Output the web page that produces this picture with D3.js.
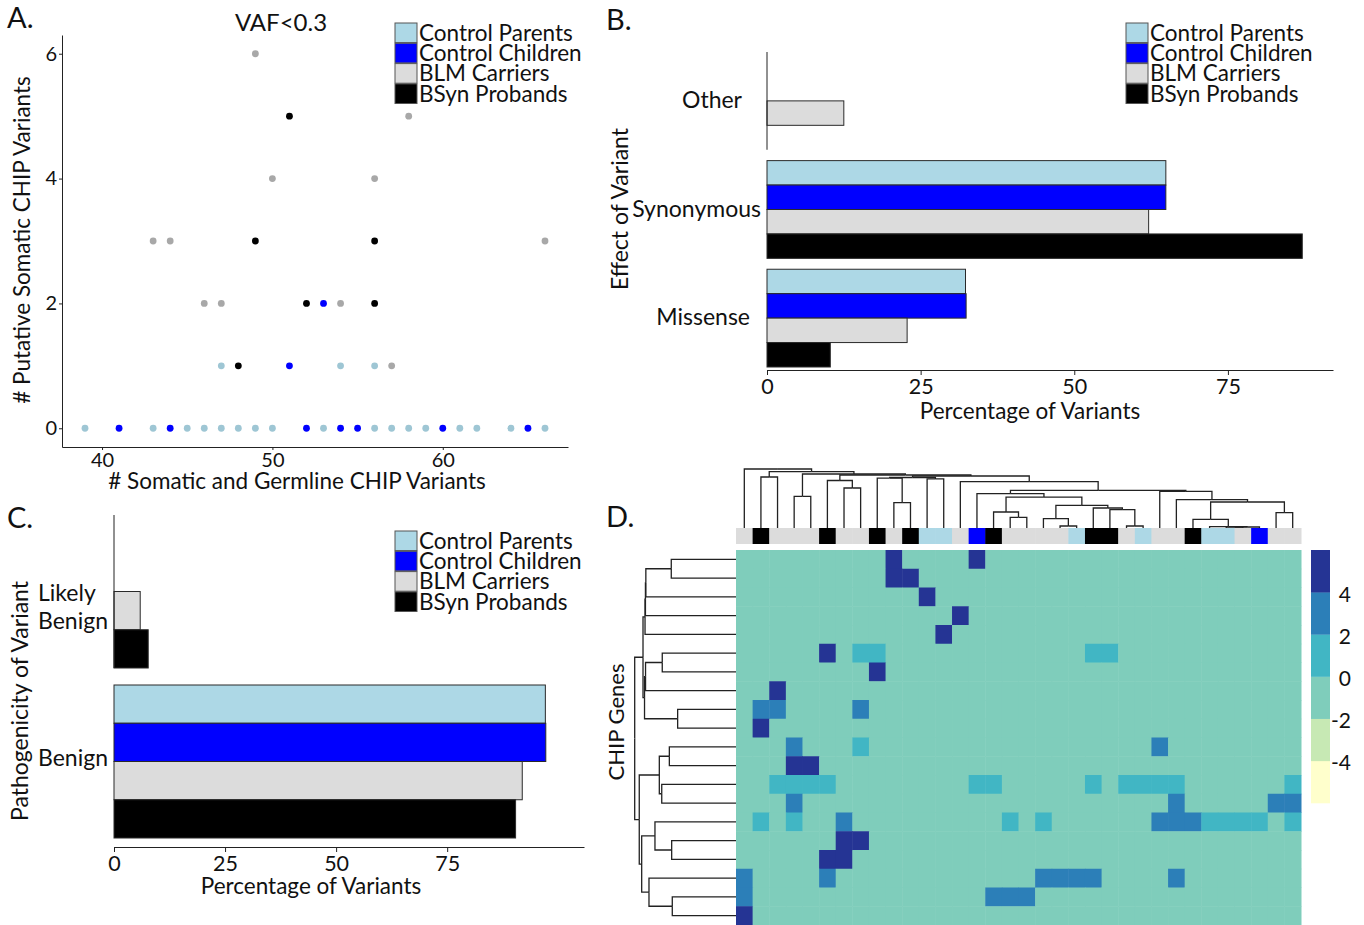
<!DOCTYPE html>
<html>
<head>
<meta charset="utf-8">
<script src="https://cdn.jsdelivr.net/npm/d3@7"></script>
<style>
  body { margin: 0; background: #fff; }
  text { font-family: Lato, "Open Sans", sans-serif; fill: #111; }
  .axis path, .axis line { stroke: #222; }
  .axis text { font-family: Lato, "Open Sans", sans-serif; fill: #111; }
</style>
</head>
<body>
<svg id="fig" width="1364" height="925"></svg>
<script>
// ---- shared groups ----
const groups = ["Control Parents", "Control Children", "BLM Carriers", "BSyn Probands"];
const groupFill = ["#add8e6", "#0000ff", "#dcdcdc", "#000000"];
const dotFill = ["#9ec6d4", "#0000ff", "#a8a8a8", "#000000"];

// ---- panel A: [somatic+germline count, putative somatic count] ----
const parentsPts = [[39,0],[43,0],[45,0],[46,0],[47,0],[48,0],[49,0],[50,0],[53,0],[56,0],[57,0],[58,0],[59,0],[61,0],[62,0],[64,0],[66,0],[47,1],[54,1],[56,1]];
const childrenPts = [[41,0],[44,0],[52,0],[54,0],[55,0],[60,0],[65,0],[51,1],[53,2]];
const carrierPts = [[57,1],[46,2],[47,2],[54,2],[43,3],[44,3],[66,3],[50,4],[56,4],[58,5],[49,6]];
const probandPts = [[48,1],[52,2],[56,2],[49,3],[56,3],[51,5]];
const aXTicks = [40, 50, 60];
const aYTicks = [0, 2, 4, 6];

// ---- panel B: effect of variant (%) ----
const effectCats = ["Other", "Synonymous", "Missense"];
const effectParents = [0, 64.9, 32.3];
const effectChildren = [0, 64.9, 32.4];
const effectCarriers = [12.5, 62.1, 22.8];
const effectProbands = [0, 87.1, 10.3];

// ---- panel C: pathogenicity (%) ----
const pathoCats = ["Likely Benign", "Benign"];
const pathoParents = [0, 97.1];
const pathoChildren = [0, 97.2];
const pathoCarriers = [5.9, 91.9];
const pathoProbands = [7.7, 90.4];
const pctTicks = [0, 25, 50, 75];

// ---- panel D: heatmap ----
// group index of each sample column (after clustering)
const sampleGroup = [2,3,2,2,2,3,2,2,3,2,3,0,0,2,1,3,2,2,2,2,0,3,3,2,0,2,2,3,0,0,2,1,2,2];
const geneCount = 20;
const baseScore = -1;
// [gene row, sample column, score] for every cell off the base colour
const hotCells = [
  [0,9,5],[0,14,5],
  [1,9,5],[1,10,5],
  [2,11,5],
  [3,13,5],
  [4,12,5],
  [5,5,5],[5,7,1],[5,8,1],[5,21,1],[5,22,1],
  [6,8,5],
  [7,2,5],
  [8,1,3],[8,2,3],[8,7,3],
  [9,1,5],
  [10,3,3],[10,7,1],[10,25,3],
  [11,3,5],[11,4,5],
  [12,2,1],[12,3,1],[12,4,1],[12,5,1],[12,14,1],[12,15,1],[12,21,1],[12,23,1],[12,24,1],[12,25,1],[12,26,1],[12,33,1],
  [13,3,3],[13,26,3],[13,32,3],[13,33,3],
  [14,1,1],[14,3,1],[14,6,3],[14,16,1],[14,18,1],[14,25,3],[14,26,3],[14,27,3],[14,28,1],[14,29,1],[14,30,1],[14,31,1],[14,33,1],
  [15,6,5],[15,7,5],
  [16,5,5],[16,6,5],
  [17,0,3],[17,5,3],[17,18,3],[17,19,3],[17,20,3],[17,21,3],[17,26,3],
  [18,0,3],[18,15,3],[18,16,3],[18,17,3],
  [19,0,5]
];
const scaleBreaks = [-4, -2, 0, 2, 4];
const scaleEnds = [-6, 6];
const scaleColors = ["#ffffcc", "#c7e9b4", "#7fcdbb", "#41b6c4", "#2c7fb8", "#253494"];

// dendrograms as [height, left, right]; numbers are leaf indices
const colTree = [10, 0,
  [9.54, [8.64, 1, 2],
    [9.15, [5.37, 3, 4],
      [8.98, [8.05, 5, [6.78, 6, 7]],
        [8.81,
          [8.56, [8.47, 8, [4.29, 9, 10]], [8.31, 11, 12]],
          [7.85, 13,
            [6.39,
              [5.81, 14,
                [5.25, [2.71, 15, [1.81, 16, 17]],
                  [3.85, [1.58, 18, [0.34, 19, 20]],
                    [3.39, 21, [3.1, 22, [0.34, 23, 24]]]]]],
              [6.22, 25,
                [4.8, 26,
                  [4.41, [1.47, 27, [0.25, 28, [0.17, [0.14, 29, 30], 31]]],
                    [2.59, 32, 33]]]]]]]]]]];
const rowTree = [10,
  [9.18,
    [8.98, [8.94, [8.9, [6.39, 0, 1], 2], 3], 4],
    [9.03, [8.93, [7.28, 5, 6], 7], [5.76, 8, 9]]],
  [9.55,
    [7.57, [6.58, 10, 11], [7.33, 12, 13]],
    [9.31, [8.0, 14, [6.35, 15, 16]], [8.59, 17, [6.29, 18, 19]]]]];

var svg = d3.select("#fig");

function panelLetter(txt, x, y) {
  svg.append("text").attr("x", x).attr("y", y).style("font-size", "29px").text(txt);
}

function drawLegend(x0, y0) {
  var lg = svg.append("g").attr("transform", "translate(" + x0 + "," + y0 + ")");
  lg.selectAll("rect").data(groups).enter().append("rect")
    .attr("x", 0).attr("y", (d, i) => i * 20.3)
    .attr("width", 22).attr("height", 19.6)
    .attr("fill", (d, i) => groupFill[i])
    .attr("stroke", "#555").attr("stroke-width", 1);
  lg.selectAll("text").data(groups).enter().append("text")
    .attr("x", 24).attr("y", (d, i) => i * 20.3 + 17.8)
    .style("font-size", "22.5px").text(d => d);
}

// ================= Panel A =================
(function () {
  var x = d3.scaleLinear().domain([37.65, 67.35]).range([62, 568]);
  var y = d3.scaleLinear().domain([-0.3, 6.3]).range([447, 35]);
  var series = [parentsPts, childrenPts, carrierPts, probandPts];

  svg.append("g").attr("class", "axis").attr("transform", "translate(0,447)")
    .call(d3.axisBottom(x).tickValues(aXTicks).tickFormat(d3.format("d"))
      .tickSize(3).tickSizeOuter(0).tickPadding(3))
    .selectAll("text").style("font-size", "20px");
  svg.append("g").attr("class", "axis").attr("transform", "translate(62,0)")
    .call(d3.axisLeft(y).tickValues(aYTicks).tickFormat(d3.format("d"))
      .tickSize(3).tickSizeOuter(0).tickPadding(2))
    .selectAll("text").style("font-size", "20px");

  series.forEach(function (pts, gi) {
    svg.append("g").selectAll("circle").data(pts).enter().append("circle")
      .attr("cx", d => x(d[0])).attr("cy", d => y(d[1]))
      .attr("r", 3.4).attr("fill", dotFill[gi]);
  });

  svg.append("text").attr("x", 281).attr("y", 31).attr("text-anchor", "middle")
    .style("font-size", "24px").text("VAF<0.3");
  svg.append("text").attr("x", 297).attr("y", 489).attr("text-anchor", "middle")
    .style("font-size", "22.5px").text("# Somatic and Germline CHIP Variants");
  svg.append("text").attr("transform", "translate(30,240) rotate(-90)").attr("text-anchor", "middle")
    .style("font-size", "22.5px").text("# Putative Somatic CHIP Variants");

  panelLetter("A.", 7, 28);
  drawLegend(395, 23);
})();

// ================= bar panels (B, C) =================
function barPanel(cats, series, xMax, xRange, yRange, axisY) {
  var x = d3.scaleLinear().domain([0, xMax]).range(xRange);
  var y = d3.scaleBand().domain(cats).range(yRange).paddingInner(0.1);
  var ySub = d3.scaleBand().domain(d3.range(groups.length)).range([0, y.bandwidth()]);
  var rows = [];
  series.forEach(function (vals, gi) {
    vals.forEach(function (v, ci) { if (v > 0) rows.push({ cat: cats[ci], g: gi, v: v }); });
  });

  var g = svg.append("g");
  g.selectAll("rect").data(rows).enter().append("rect")
    .attr("x", x(0)).attr("y", d => y(d.cat) + ySub(d.g))
    .attr("width", d => x(d.v) - x(0)).attr("height", ySub.bandwidth())
    .attr("fill", d => groupFill[d.g])
    .attr("stroke", "#2a2a2a").attr("stroke-width", 1);

  // y axis line only shows along the first category
  g.append("line")
    .attr("x1", x(0)).attr("x2", x(0))
    .attr("y1", y(cats[0])).attr("y2", y(cats[0]) + y.bandwidth())
    .attr("stroke", "#222").attr("stroke-width", 1);

  g.append("g").attr("class", "axis").attr("transform", "translate(0," + axisY + ")")
    .call(d3.axisBottom(x).tickValues(pctTicks).tickSize(5).tickSizeOuter(0).tickPadding(4))
    .selectAll("text").style("font-size", "21.5px");
  return { x: x, y: y };
}

// ================= Panel B =================
(function () {
  var s = barPanel(effectCats, [effectParents, effectChildren, effectCarriers, effectProbands],
    92.1, [767, 1333], [52, 367], 370);
  var labelGap = [25, 6, 17];
  svg.append("g").selectAll("text").data(effectCats).enter().append("text")
    .attr("x", (d, i) => s.x(0) - labelGap[i])
    .attr("y", d => s.y(d) + s.y.bandwidth() / 2)
    .attr("dy", "0.32em").attr("text-anchor", "end")
    .style("font-size", "23px").text(d => d);
  svg.append("text").attr("x", 1030).attr("y", 419).attr("text-anchor", "middle")
    .style("font-size", "22.5px").text("Percentage of Variants");
  svg.append("text").attr("transform", "translate(628,209) rotate(-90)").attr("text-anchor", "middle")
    .style("font-size", "23px").text("Effect of Variant");
  panelLetter("B.", 606, 30);
  drawLegend(1126, 23);
})();

// ================= Panel C =================
(function () {
  var s = barPanel(pathoCats, [pathoParents, pathoChildren, pathoCarriers, pathoProbands],
    105.8, [114, 584], [515, 838], 847);
  // multi-line category labels, left aligned
  pathoCats.forEach(function (c) {
    var words = c.split(" ");
    var mid = s.y(c) + s.y.bandwidth() / 2;
    var first = words.length > 1 ? mid + 9 : mid + 4;
    var t = svg.append("text").attr("x", 38).attr("y", first).style("font-size", "23px");
    words.forEach(function (w, i) {
      t.append("tspan").attr("x", 38).attr("dy", i === 0 ? 0 : 28).text(w);
    });
  });
  svg.append("text").attr("x", 311).attr("y", 894).attr("text-anchor", "middle")
    .style("font-size", "22.5px").text("Percentage of Variants");
  svg.append("text").attr("transform", "translate(28,701) rotate(-90)").attr("text-anchor", "middle")
    .style("font-size", "23px").text("Pathogenicity of Variant");
  panelLetter("C.", 7, 528);
  drawLegend(395, 531);
})();

// ================= Panel D =================
function layoutTree(tree, leafPos) {
  var root = d3.hierarchy(tree, d => Array.isArray(d) ? d.slice(1) : null);
  root.eachAfter(function (n) {
    if (n.children) { n.h = n.data[0]; n.p = d3.mean(n.children, c => c.p); }
    else { n.h = 0; n.p = leafPos(n.data); }
  });
  return root;
}

(function () {
  var colX = d3.scaleBand().domain(d3.range(sampleGroup.length)).range([736, 1301]);
  var rowY = d3.scaleBand().domain(d3.range(geneCount)).range([550, 925]);
  var score = d3.scaleThreshold().domain(scaleBreaks).range(scaleColors);

  // full matrix from the sparse cell list
  var matrix = d3.range(geneCount).map(() => sampleGroup.map(() => baseScore));
  hotCells.forEach(c => { matrix[c[0]][c[1]] = c[2]; });
  var cells = [];
  matrix.forEach((row, r) => row.forEach((v, c) => cells.push({ r: r, c: c, v: v })));

  svg.append("g").selectAll("rect").data(cells).enter().append("rect")
    .attr("x", d => colX(d.c)).attr("y", d => rowY(d.r))
    .attr("width", colX.bandwidth() + 0.5).attr("height", rowY.bandwidth() + 0.5)
    .attr("fill", d => score(d.v));

  // sample group annotation bar
  svg.append("g").selectAll("rect").data(sampleGroup).enter().append("rect")
    .attr("x", (d, i) => colX(i)).attr("y", 528)
    .attr("width", colX.bandwidth() + 0.5).attr("height", 16)
    .attr("fill", d => groupFill[d]);

  // column dendrogram
  var colH = d3.scaleLinear().domain([0, 10]).range([528, 469]);
  var cRoot = layoutTree(colTree, i => colX(i) + colX.bandwidth() / 2);
  var cLinks = [];
  cRoot.each(n => { if (n.children) n.children.forEach(c => cLinks.push({ p: n, c: c })); });
  svg.append("g").selectAll("path").data(cLinks).enter().append("path")
    .attr("d", d => "M" + d.c.p + "," + colH(d.c.h) + "V" + colH(d.p.h) + "H" + d.p.p)
    .attr("fill", "none").attr("stroke", "#222").attr("stroke-width", 1.3);

  // row dendrogram
  var rowH = d3.scaleLinear().domain([0, 10]).range([736, 634.7]);
  var rRoot = layoutTree(rowTree, i => rowY(i) + rowY.bandwidth() / 2);
  var rLinks = [];
  rRoot.each(n => { if (n.children) n.children.forEach(c => rLinks.push({ p: n, c: c })); });
  svg.append("g").selectAll("path").data(rLinks).enter().append("path")
    .attr("d", d => "M" + rowH(d.c.h) + "," + d.c.p + "H" + rowH(d.p.h) + "V" + d.p.p)
    .attr("fill", "none").attr("stroke", "#222").attr("stroke-width", 1.3);

  // colour key
  var cb = d3.scaleLinear().domain(scaleEnds).range([803, 550]);
  var bounds = [scaleEnds[0]].concat(scaleBreaks, [scaleEnds[1]]);
  svg.append("g").selectAll("rect").data(scaleColors).enter().append("rect")
    .attr("x", 1311).attr("width", 19)
    .attr("y", (d, i) => cb(bounds[i + 1]))
    .attr("height", (d, i) => cb(bounds[i]) - cb(bounds[i + 1]) + 0.3)
    .attr("fill", d => d);
  svg.append("g").selectAll("text").data(scaleBreaks).enter().append("text")
    .attr("x", 1351).attr("y", d => cb(d) + 2).attr("dy", "0.35em")
    .attr("text-anchor", "end").style("font-size", "21px").text(d => d);

  svg.append("text").attr("transform", "translate(624,722) rotate(-90)").attr("text-anchor", "middle")
    .style("font-size", "22px").text("CHIP Genes");
  panelLetter("D.", 606, 527);
})();
</script>
</body>
</html>
